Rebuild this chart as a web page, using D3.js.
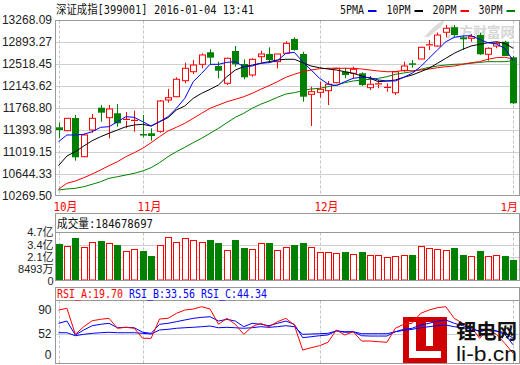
<!DOCTYPE html>
<html><head><meta charset="utf-8">
<script src="https://cdn.jsdelivr.net/npm/d3@7"></script>
<style>html,body{margin:0;padding:0;background:#fff;} svg{display:block;}</style>
</head><body><svg id="c" width="520" height="365"></svg>
<script>
// ---------- DATA ----------
const dates = ["2015-10-19","2015-10-20","2015-10-21","2015-10-22","2015-10-23","2015-10-26","2015-10-27","2015-10-28","2015-10-29","2015-10-30",
"2015-11-02","2015-11-03","2015-11-04","2015-11-05","2015-11-06","2015-11-09","2015-11-10","2015-11-11","2015-11-12","2015-11-13",
"2015-11-16","2015-11-17","2015-11-18","2015-11-19","2015-11-20","2015-11-23","2015-11-24","2015-11-25","2015-11-26","2015-11-27",
"2015-11-30","2015-12-01","2015-12-02","2015-12-03","2015-12-04","2015-12-07","2015-12-08","2015-12-09","2015-12-10","2015-12-11",
"2015-12-14","2015-12-15","2015-12-16","2015-12-17","2015-12-18","2015-12-21","2015-12-22","2015-12-23","2015-12-24","2015-12-25",
"2015-12-28","2015-12-29","2015-12-30","2015-12-31","2016-01-04"];
const open  = [11440,11382,11598,10939,11394,11774,11604,11679,11552,11542,11317,11338,11372,11905,11961,12234,12387,12513,12718,12484,12190,12740,12518,12331,12643,12689,12558,12701,12944,12689,12002,12036,12064,12200,12387,12360,12360,12115,12169,12110,12029,12404,12522,12604,12837,12825,13059,13144,12973,12956,13012,12684,12825,12898,12633];
const high  = [11518,11600,11650,11334,11667,11820,11820,11837,11701,11723,11650,11423,11905,12092,12292,12541,12587,12701,12769,12558,12626,12825,12598,12616,12745,12803,12689,12905,12973,12728,12132,12217,12229,12455,12455,12472,12377,12314,12246,12190,12399,12558,12587,12813,12927,13052,13183,13183,12995,13030,13052,12803,12898,12915,12655];
const low   = [11253,11375,10871,10929,11348,11535,11253,11450,11423,11365,11270,11212,11348,11859,11951,12190,12348,12445,12513,12275,12161,12472,12258,12302,12541,12541,12445,12701,12745,11876,11462,11944,11820,12190,12275,12275,12144,12075,12104,12047,11990,12387,12455,12598,12757,12813,12973,12984,12757,12898,12672,12575,12786,12655,11837];
const close = [11394,11593,10929,11309,11593,11689,11752,11508,11576,11559,11300,11292,11888,11944,12258,12445,12501,12672,12626,12404,12616,12513,12292,12598,12689,12587,12689,12871,12757,11961,12047,12087,12173,12445,12331,12428,12161,12173,12181,12121,12387,12484,12513,12803,12847,13012,13127,13012,12939,12984,12684,12786,12871,12655,11849];
const volume = [348e6,328e6,411e6,317e6,366e6,380e6,356e6,338e6,272e6,293e6,276e6,224e6,335e6,418e6,366e6,408e6,387e6,366e6,390e6,359e6,283e6,390e6,307e6,293e6,356e6,359e6,283e6,314e6,338e6,359e6,314e6,262e6,262e6,252e6,265e6,241e6,265e6,231e6,231e6,210e6,220e6,231e6,234e6,324e6,304e6,293e6,283e6,307e6,234e6,220e6,276e6,220e6,231e6,220e6,184678697];
const ma5  = [11195,11309,11309,11321,11365,11440,11450,11535,11621,11610,11535,11462,11535,11621,11764,11934,12217,12360,12513,12513,12547,12558,12472,12484,12530,12541,12575,12701,12718,12558,12416,12275,12178,12149,12217,12275,12292,12285,12246,12229,12229,12292,12360,12472,12616,12757,12898,12973,12996,13001,12939,12881,12859,12786,12575];
const ma10 = [10786,10951,11024,11121,11212,11280,11338,11394,11450,11479,11491,11462,11535,11604,11735,11803,11934,12019,12087,12161,12302,12416,12472,12501,12530,12558,12587,12599,12599,12541,12484,12455,12433,12416,12387,12360,12314,12275,12217,12229,12246,12292,12331,12387,12445,12530,12616,12701,12769,12825,12854,12881,12898,12871,12786];
const ma20 = [10384,10486,10525,10581,10644,10713,10786,10854,10939,11007,11082,11178,11280,11377,11440,11508,11593,11679,11764,11820,11876,11917,11961,12019,12087,12149,12217,12292,12343,12387,12416,12438,12445,12445,12445,12445,12433,12416,12399,12387,12387,12411,12404,12416,12433,12455,12472,12484,12513,12541,12558,12599,12626,12633,12604];
const ma30 = [10372,10389,10401,10428,10469,10513,10571,10598,10627,10656,10696,10752,10837,10939,11024,11099,11178,11253,11338,11423,11518,11610,11679,11764,11832,11888,11951,12007,12030,12064,12093,12104,12132,12161,12200,12229,12246,12258,12275,12302,12343,12365,12387,12428,12462,12484,12501,12513,12518,12530,12547,12558,12558,12558,12575];
const rsiA = [90.2,93,50.7,63.1,72.8,75.1,76.7,60.5,62.1,60.5,44.2,44.2,75.6,76.7,84.8,90.2,91.8,95.6,91.8,67,76.7,67,50.7,63.1,68.6,63.1,71.2,76.7,65.8,25.2,28.9,32.2,37.7,57.7,49.6,54.9,39.8,39.8,38.7,37.7,60.5,67,68.6,84.8,90.2,94,95.6,76.7,68.6,63.1,44.2,57.7,50.7,36.1,19.70];
const rsiB = [68.6,72.3,49.6,57.7,64.7,67,68.6,61.4,62.1,61.4,54,52.3,67,68.6,71.2,74,76.7,78.3,79.3,72.3,75.1,72.3,63.1,68.6,67,64.7,68.6,72.3,67,45.2,46.8,48.4,49.6,56.6,54,54.9,48.4,47.9,47.9,47.9,54.9,58.8,60.5,65.8,68.6,72.3,74,68.6,64.7,61.4,54.9,58.8,56.1,50.7,33.56];
const rsiC = [53.3,53.3,48.4,50.7,52.3,53.3,54,53.3,53.3,53.3,52.3,51.2,57.7,58.8,60.5,61.4,62.1,63.1,64.2,61.4,62.1,61.4,60.5,61.4,63.1,62.1,63.1,64.7,63.1,50.7,51.2,51.7,52.3,56.1,54.9,54.9,51.7,51.7,51.7,51.7,54.9,57.2,58.8,61.4,63.1,64.7,65.8,63.1,61.4,59.3,56.1,57.2,56.1,53.3,44.34];
const priceTicks = [13268.09,12893.27,12518.45,12143.62,11768.80,11393.98,11019.15,10644.33,10269.50];
const volTicks = [0.8493e8,2.1e8,3.4e8,4.7e8];
const volTickLabels = ["8493万","2.1亿","3.4亿","4.7亿"];
const rsiTicks = [90,52];
const monthDates = ["2015-10-19","2015-11-02","2015-12-01","2016-01-04"];
const monthLabels = ["10月","11月","12月","1月"];
const maNames = ["5PMA","10PM","20PM","30PM"];
const maColors = ["#0000ff","#000000","#ff0000","#008000"];
const title = "深证成指[399001] 2016-01-04 13:41";
const volTitle = "成交量:184678697";
const rsiNames = ["RSI_A:19.70","RSI_B:33.56","RSI_C:44.34"];
const rsiColors = ["#ff0000","#0000ff","#0000ff"];

// ---------- LAYOUT ----------
const svg = d3.select("#c");
const L = 55.5, R = 519.5;
const RED = "#ff0000", GREEN = "#008000", FRAME = "#999", GRID = "#cfcfcf";
const x = d3.scalePoint().domain(dates).range([58.5, 513.2]);
const cx = d => Math.round(x(d)) + 0.5;
const yP = d3.scaleLinear().domain([10269.50, 13268.09]).range([196, 20]);
const yV = d3.scaleLinear().domain([0, 4.7e8]).range([277.5, 232.3]);
const yR = d3.scaleLinear().domain([0, 100]).range([365.5, 304]);
const main = {top: 20.5, bot: 195.5}, volP = {top: 213.5, head: 232.5, bot: 280.5}, rsiP = {top: 287.5, head: 300.5, bot: 363.5};
const snap = v => Math.round(v) + 0.5;

function simText(sel, xx, yy, str, color) {
  let len = 0; for (const ch of str) len += ch.charCodeAt(0) > 255 ? 12 : 6;
  return sel.append("text").attr("x", xx).attr("y", yy).attr("fill", color)
    .attr("font-family", "'DejaVu Sans Mono','Noto Sans CJK SC',monospace").attr("font-size", 12)
    .attr("textLength", len).attr("lengthAdjust", "spacingAndGlyphs").text(str);
}

// clip paths
const defs = svg.append("defs");
defs.append("clipPath").attr("id","cm").append("rect").attr("x",L).attr("y",main.top).attr("width",R-L).attr("height",main.bot-main.top);
defs.append("clipPath").attr("id","cr").append("rect").attr("x",L).attr("y",rsiP.head).attr("width",R-L).attr("height",rsiP.bot-rsiP.head);

// ---------- GRID ----------
const grid = svg.append("g").attr("stroke", GRID).attr("stroke-width", 1);
grid.selectAll(".hp").data(priceTicks.slice(1, -1)).join("line").attr("class","hp")
  .attr("x1", L).attr("x2", R).attr("y1", d => snap(yP(d))).attr("y2", d => snap(yP(d)));
grid.selectAll(".hv").data(volTicks.slice(0, -1)).join("line").attr("class","hv")
  .attr("x1", L).attr("x2", R).attr("y1", d => snap(yV(d))).attr("y2", d => snap(yV(d)));
grid.selectAll(".hr").data([52]).join("line").attr("class","hr")
  .attr("x1", L).attr("x2", R).attr("y1", d => snap(yR(d))).attr("y2", d => snap(yR(d)));
const dash = svg.append("g").attr("stroke", "#c4c4c4").attr("stroke-dasharray", "3,2");
[[main.top, main.bot], [volP.head, volP.bot], [rsiP.head, rsiP.bot]].forEach(([a, b]) => {
  dash.append("g").selectAll("line").data(monthDates).join("line")
    .attr("x1", d => cx(d)).attr("x2", d => cx(d)).attr("y1", a).attr("y2", b);
});

// watermark
svg.append("text").attr("x", 446).attr("y", 37).attr("fill", "#d6d6d6").attr("font-weight", "bold")
  .attr("font-family", "'Noto Sans CJK SC'").attr("font-size", 14)
  .attr("textLength", 68).attr("lengthAdjust", "spacingAndGlyphs").text("东方财富网");
svg.append("path").attr("d", "M424,37 C431,30 435,24 445,20 L441,27 C437,30 432,34 429,37 Z").attr("fill", "#dcdcdc");

// ---------- CANDLES ----------
const idx = d3.range(dates.length);
const cg = svg.append("g").attr("clip-path", "url(#cm)");
idx.forEach(i => {
  const c = cx(dates[i]);
  const up = close[i] >= open[i];
  const col = up ? RED : GREEN;
  const yt = yP(Math.max(open[i], close[i])), yb = yP(Math.min(open[i], close[i]));
  const h = Math.max(1, yb - yt);
  if (up) {
    cg.append("line").attr("x1", c).attr("x2", c).attr("y1", yP(high[i])).attr("y2", yt).attr("stroke", col);
    cg.append("line").attr("x1", c).attr("x2", c).attr("y1", yt + h).attr("y2", yP(low[i])).attr("stroke", col);
    if (h <= 1.5) cg.append("rect").attr("x", c - 3.5).attr("y", yt - 0.5).attr("width", 7).attr("height", 1.2).attr("fill", col);
    else cg.append("rect").attr("x", c - 3).attr("y", yt).attr("width", 6).attr("height", h).attr("fill", "#fff").attr("stroke", col);
  } else {
    cg.append("line").attr("x1", c).attr("x2", c).attr("y1", yP(high[i])).attr("y2", yP(low[i])).attr("stroke", col);
    cg.append("rect").attr("x", c - 3.5).attr("y", yt - (h <= 1.5 ? 0.5 : 0)).attr("width", 7).attr("height", Math.max(1.5, h)).attr("fill", col);
  }
});
// moving averages
const mas = [ma5, ma10, ma20, ma30];
const line = d3.line().x((d, i) => x(dates[i])).y(d => yP(d));
[3, 2, 1, 0].forEach(k => {
  cg.append("path").attr("d", line(mas[k])).attr("fill", "none").attr("stroke", maColors[k]).attr("stroke-width", 1);
});

// ---------- VOLUME ----------
const vg = svg.append("g");
idx.forEach(i => {
  const c = cx(dates[i]);
  const up = close[i] >= open[i];
  const t = yV(volume[i]);
  if (up) vg.append("rect").attr("x", c - 3).attr("y", snap(t)).attr("width", 6).attr("height", 280 - snap(t)).attr("fill", "#fff").attr("stroke", RED);
  else vg.append("rect").attr("x", c - 3.5).attr("y", Math.round(t)).attr("width", 7).attr("height", 280.5 - Math.round(t)).attr("fill", GREEN);
});

// ---------- RSI ----------
const logoBox = svg.append("g");
logoBox.append("rect").attr("x", 403).attr("y", 317).attr("width", 44).attr("height", 47).attr("fill", "#d10000");
logoBox.append("rect").attr("x", 409).attr("y", 322).attr("width", 7).attr("height", 36).attr("fill", "#fff");
logoBox.append("rect").attr("x", 409).attr("y", 351).attr("width", 32).attr("height", 7).attr("fill", "#fff");
logoBox.append("rect").attr("x", 426).attr("y", 322).attr("width", 7).attr("height", 24).attr("fill", "#fff");
const rg = svg.append("g").attr("clip-path", "url(#cr)");
const rline = d3.line().x((d, i) => x(dates[i])).y(d => yR(d));
[[rsiC, "#0000ff"], [rsiB, "#0000ff"], [rsiA, RED]].forEach(([arr, col]) => {
  rg.append("path").attr("d", rline(arr)).attr("fill", "none").attr("stroke", col).attr("stroke-width", 1);
});
const logoText = svg.append("g");
logoText.append("text").attr("x", 456).attr("y", 339).attr("font-family", "'Noto Sans CJK SC'").attr("font-weight", "bold")
  .attr("font-size", 20).attr("fill", "#111").attr("textLength", 61).attr("lengthAdjust", "spacingAndGlyphs").text("锂电网");
logoText.append("text").attr("x", 456).attr("y", 361).attr("font-family", "'Liberation Sans',Arial").attr("font-size", 20)
  .attr("fill", "#111").attr("textLength", 61).attr("lengthAdjust", "spacingAndGlyphs").text("li-b.cn");

// ---------- FRAMES ----------
const fr = svg.append("g").attr("fill", "none").attr("stroke", FRAME);
fr.append("rect").attr("x", L).attr("y", main.top).attr("width", R - L).attr("height", main.bot - main.top);
fr.append("rect").attr("x", L).attr("y", volP.top).attr("width", R - L).attr("height", volP.bot - volP.top);
fr.append("line").attr("x1", L).attr("x2", R).attr("y1", volP.head).attr("y2", volP.head);
fr.append("rect").attr("x", L).attr("y", rsiP.top).attr("width", R - L).attr("height", rsiP.bot - rsiP.top);
fr.append("line").attr("x1", L).attr("x2", R).attr("y1", rsiP.head).attr("y2", rsiP.head);

// ---------- AXES ----------
function styleAxis(size) {
  return g => {
    g.select(".domain").remove();
    g.selectAll("text").attr("font-family", "'Liberation Sans','Noto Sans CJK SC',Arial").attr("font-size", size).attr("fill", "#222");
  };
}
svg.append("g").attr("transform", `translate(${L},0)`)
  .call(d3.axisLeft(yP).tickValues(priceTicks).tickFormat(d3.format(".2f")).tickSize(0).tickPadding(3.5)).call(styleAxis(12));
svg.append("g").attr("transform", `translate(${L},0)`)
  .call(d3.axisLeft(yV).tickValues(volTicks).tickFormat((d, i) => volTickLabels[i]).tickSize(0).tickPadding(2)).call(styleAxis(11));
svg.append("g").attr("transform", `translate(${L},0)`)
  .call(d3.axisLeft(yR).tickValues(rsiTicks).tickSize(0).tickPadding(4)).call(styleAxis(12));
svg.append("text").attr("x", L - 2).attr("y", volP.bot + 1).attr("dy", "0.32em").attr("text-anchor", "end")
  .attr("font-family", "'Liberation Sans',Arial").attr("font-size", 11).attr("fill", "#222").text("0");
svg.append("text").attr("x", L - 4).attr("y", rsiP.bot - 8).attr("dy", "0.32em").attr("text-anchor", "end")
  .attr("font-family", "'Liberation Sans',Arial").attr("font-size", 12).attr("fill", "#222").text("0");

// month labels; the last one is right-aligned inside the picture
monthDates.forEach((d, i) => {
  if (i < monthDates.length - 1) simText(svg, cx(d) - 6, 211, monthLabels[i], RED);
  else svg.append("text").attr("x", 518).attr("y", 211).attr("text-anchor", "end").attr("fill", RED)
    .attr("font-family", "'DejaVu Sans Mono','Noto Sans CJK SC',monospace").attr("font-size", 11).text(monthLabels[i]);
});

// ---------- HEADERS ----------
simText(svg, 56, 14, title, "#111");
const legX = [340, 386.5, 432.5, 478.5];
maNames.forEach((n, i) => {
  simText(svg, legX[i], 14, n, "#111");
  svg.append("line").attr("x1", legX[i] + 28).attr("x2", legX[i] + 36.5).attr("y1", 11).attr("y2", 11)
    .attr("stroke", maColors[i]).attr("stroke-width", 2);
});
simText(svg, 57, 228, volTitle, "#111");
rsiNames.forEach((n, i) => simText(svg, 57 + 72 * i, 297.5, n, rsiColors[i]));
</script></body></html>
